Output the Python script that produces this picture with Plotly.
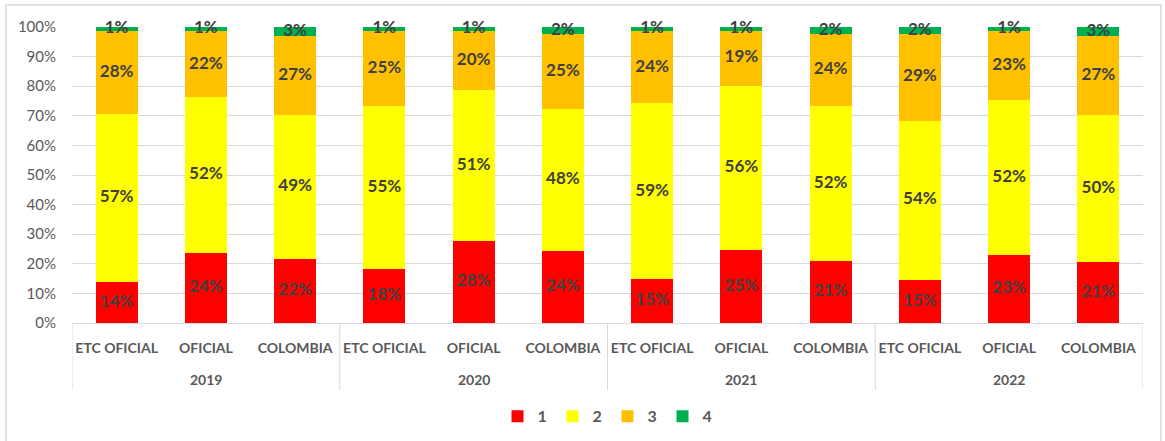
import plotly.graph_objects as go

years = ["2019"] * 3 + ["2020"] * 3 + ["2021"] * 3 + ["2022"] * 3
groups = ["ETC OFICIAL", "OFICIAL", "COLOMBIA"] * 4
year_labels = ["2019", "2020", "2021", "2022"]

s1 = [13.8, 23.8, 21.6, 18.2, 27.6, 24.2, 14.8, 24.6, 21.0, 14.6, 23.0, 20.6]
s2 = [56.7, 52.4, 48.7, 55.2, 51.0, 48.2, 59.4, 55.6, 52.2, 53.8, 52.4, 49.7]
s3 = [28.1, 22.4, 26.6, 25.2, 20.1, 25.3, 24.4, 18.6, 24.4, 29.4, 23.2, 26.8]
s4 = [1.4, 1.4, 3.1, 1.4, 1.3, 2.3, 1.4, 1.2, 2.4, 2.2, 1.4, 2.9]

series_names = ["1", "2", "3", "4"]
series_values = [s1, s2, s3, s4]
colors = ["#FF0000", "#FFFF00", "#FFC000", "#00B050"]

FONT = "Lato, Carlito, Calibri, sans-serif"
keys = [f"{y} {g}" for y, g in zip(years, groups)]

fig = go.Figure()
base = [0.0] * len(s1)
lx, ly, lt = [], [], []
for name, vals, col in zip(series_names, series_values, colors):
    fig.add_trace(go.Bar(
        x=keys, y=vals, name=name,
        marker=dict(color=col, line=dict(width=0)),
    ))
    for i, v in enumerate(vals):
        lx.append(keys[i])
        ly.append(base[i] + v / 2)
        lt.append(f"{round(v):d}%")
        base[i] += v

fig.add_trace(go.Scatter(
    x=lx, y=ly, text=lt, mode="text",
    textposition="middle center", showlegend=False, hoverinfo="skip",
    textfont=dict(family=FONT, size=17, color="#404040", weight="bold"),
    cliponaxis=False,
))

n_per = 3
shapes = []
for k in range(len(year_labels) + 1):
    xb = k * n_per - 0.5
    shapes.append(dict(type="line", xref="x", yref="paper", x0=xb, x1=xb, y0=0, y1=-0.225,
                       line=dict(color="#D9D9D9", width=1)))
shapes.append(dict(type="rect", xref="paper", yref="paper",
                   x0=-0.0616, x1=1.0168, y0=-0.42, y1=1.074,
                   line=dict(color="#D9D9D9", width=1.5), fillcolor="rgba(0,0,0,0)", layer="below"))

annotations = []
for k, yl in enumerate(year_labels):
    annotations.append(dict(x=k * n_per + (n_per - 1) / 2, xref="x", y=-0.19, yref="paper",
                            text=yl, showarrow=False, yanchor="middle",
                            font=dict(family=FONT, size=14, color="#595959", weight="bold")))

fig.update_layout(
    barmode="stack",
    bargap=0.53,
    width=1165, height=441,
    margin=dict(l=72, r=22, t=27, b=118, autoexpand=False),
    paper_bgcolor="white", plot_bgcolor="white",
    font=dict(family=FONT, color="#595959"),
    showlegend=True,
    legend=dict(orientation="h", x=0.5, xanchor="center", y=-0.315, yanchor="middle",
                traceorder="normal", entrywidth=10, entrywidthmode="pixels",
                font=dict(family=FONT, size=16, color="#595959", weight="bold"),
                itemwidth=30, tracegroupgap=0),
    xaxis=dict(type="category", showline=True, linecolor="#D9D9D9", linewidth=1,
               tickvals=keys, ticktext=groups, range=[-0.5, len(keys) - 0.5],
               tickangle=0, automargin=False,
               tickfont=dict(family=FONT, size=14, color="#595959", weight="bold"),
               ticks="outside", ticklen=12, tickcolor="rgba(0,0,0,0)", showgrid=False),
    yaxis=dict(range=[0, 100], dtick=10, ticksuffix="%", showgrid=True,
               gridcolor="#D9D9D9", gridwidth=1, zeroline=False, automargin=False,
               tickfont=dict(family=FONT, size=15, color="#595959"), ticklen=12,
               ticks="outside", tickcolor="rgba(0,0,0,0)"),
    shapes=shapes,
    annotations=annotations,
)

fig.write_html("out.html", config={"displayModeBar": False},
               post_script="document.body.style.margin='0';document.body.style.overflow='hidden';")
